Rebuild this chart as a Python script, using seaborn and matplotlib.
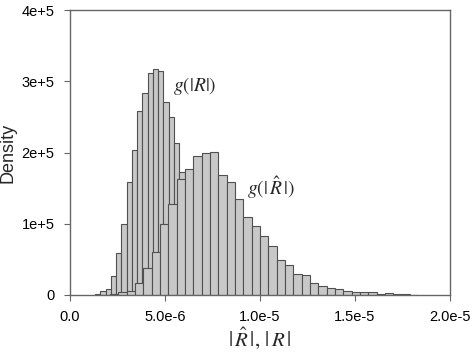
import numpy as np
import pandas as pd
import matplotlib
matplotlib.use("Agg")
import matplotlib.pyplot as plt
import seaborn as sns

# ---- data ----
# |R| histogram: first bin edge, bin width, densities (units of 1e5)
r_start = 1.316e-6
r_width = 0.2773e-6
r_density = [0.018, 0.056, 0.080, 0.267, 0.594, 0.996, 1.586, 2.035, 2.587,
             2.831, 3.112, 3.172, 3.148, 2.713, 2.502, 2.138, 1.731,
             1.46, 1.21, 0.95, 0.74, 0.56, 0.42, 0.31, 0.22, 0.17, 0.13,
             0.10, 0.07, 0.06, 0.04, 0.03, 0.02, 0.014, 0.007]

# |R-hat| histogram
rh_start = 2.105e-6
rh_width = 0.4386e-6
rh_density = [0.014, 0.038, 0.052, 0.164, 0.372, 0.608, 0.996, 1.277, 1.624,
              1.764, 1.955, 1.989, 2.011, 1.680, 1.582, 1.343, 1.099, 0.968,
              0.824, 0.691, 0.487, 0.417, 0.292, 0.276, 0.168, 0.122, 0.105,
              0.081, 0.052, 0.038, 0.046, 0.038, 0.014, 0.024, 0.014, 0.010,
              0.004]

x_ticks = [0.0, 5.0e-6, 1.0e-5, 1.5e-5, 2.0e-5]
x_tick_labels = ["0.0", "5.0e-6", "1.0e-5", "1.5e-5", "2.0e-5"]
y_ticks = [0, 1e5, 2e5, 3e5, 4e5]
y_tick_labels = ["0", "1e+5", "2e+5", "3e+5", "4e+5"]


def hist_frame(start, width, dens):
    n = len(dens)
    edges = [float(start + width * i) for i in range(n + 1)]
    centers = [float(start + width * (i + 0.5)) for i in range(n)]
    df = pd.DataFrame({"x": centers, "w": [d * 1e5 for d in dens]})
    return df, edges


sns.set_theme(style="ticks")
plt.rcParams["font.family"] = ["Liberation Sans", "DejaVu Sans"]
plt.rcParams["mathtext.fontset"] = "stix"

fig = plt.figure(figsize=(4.72, 3.54), dpi=100)
ax = fig.add_axes([70 / 472, 1 - 295 / 354, 380 / 472, 285 / 354])

fill = "#c8c8c8"
edge = "#505050"

df_r, e_r = hist_frame(r_start, r_width, r_density)
df_rh, e_rh = hist_frame(rh_start, rh_width, rh_density)

sns.histplot(data=df_r, x="x", weights="w", bins=e_r, stat="count",
             color=fill, edgecolor=edge, linewidth=0.8, alpha=1, ax=ax)
sns.histplot(data=df_rh, x="x", weights="w", bins=e_rh, stat="count",
             color=fill, edgecolor=edge, linewidth=0.8, alpha=1, ax=ax)

ax.set_xlim(0.0, 2.0e-5)
ax.set_ylim(0, 4e5)
ax.set_xticks(x_ticks)
ax.set_xticklabels(x_tick_labels)
ax.set_yticks(y_ticks)
ax.set_yticklabels(y_tick_labels)
ax.tick_params(axis="both", labelsize=10.5, colors="#000000", length=4,
               width=0.8, direction="out", pad=7)
ax.tick_params(axis="both", color="#666666")
for s in ax.spines.values():
    s.set_visible(True)
    s.set_color("#666666")
    s.set_linewidth(1.0)

ax.set_ylabel("Density", fontsize=13, labelpad=4)
ax.set_xlabel(r"$|\,\hat{R}\,|,\,|\,R\,|$", fontsize=15, labelpad=1)

ax.text(173, 354 - 86, r"$g(|R|)$", fontsize=14, transform=None, va="center")
ax.text(247, 354 - 188, r"$g(|\,\hat{R}\,|)$", fontsize=14, transform=None,
        va="center")

fig.savefig("out.png", dpi=100)
